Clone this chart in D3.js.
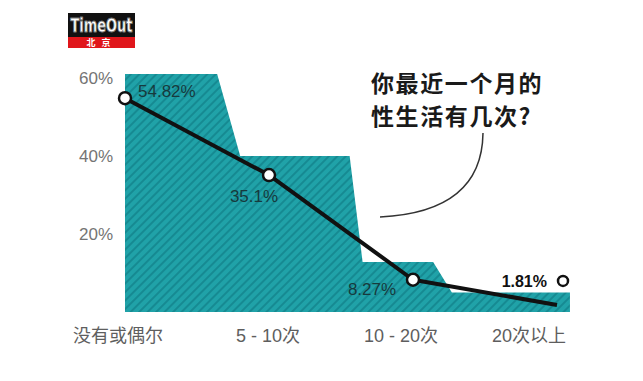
<!DOCTYPE html>
<html>
<head>
<meta charset="utf-8">
<script src="https://cdn.jsdelivr.net/npm/d3@7"></script>
<style>
  body { margin: 0; background: #fff; }
  svg { display: block; font-family: "Liberation Sans", "Noto Sans CJK SC", sans-serif; }
</style>
</head>
<body>
<div id="chart"></div>
<script>
// Data
const categories = ["没有或偶尔", "5 - 10次", "10 - 20次", "20次以上"];
const values = [54.82, 35.1, 8.27, 1.81];
const valueLabels = ["54.82%", "35.1%", "8.27%", "1.81%"];
// decorative stepped band behind the line (%)
const bandLevels = [61, 40, 12.8, 5];
const yTicks = [20, 40, 60];

const width = 643, height = 381;

const svg = d3.select("#chart")
  .append("svg")
  .attr("width", width)
  .attr("height", height);

// Scales
const x = d3.scalePoint().domain(categories).range([125, 557]);
const xi = d3.scaleLinear().domain([0, 3]).range([125, 557]); // index -> px for the band edges
const y = d3.scaleLinear().domain([0, 60]).range([312, 78]);

// Stripe pattern
const defs = svg.append("defs");
const pat = defs.append("pattern")
  .attr("id", "stripes")
  .attr("patternUnits", "userSpaceOnUse")
  .attr("width", 6)
  .attr("height", 6)
  .attr("patternTransform", "rotate(45)");
pat.append("rect").attr("width", 6).attr("height", 6).attr("fill", "#20a2a8");
pat.append("rect").attr("width", 2).attr("height", 6).attr("fill", "#168a92");

// Stepped band: each level's right edge slopes down into the next level
const edgeTop = [0.64, 1.56, 2.14, 3.09];
const edgeBottom = [0.80, 1.65, 2.27, 3.09];
const areaPts = [[xi(0), y(0)], [xi(0), y(bandLevels[0])]];
bandLevels.forEach((v, i) => {
  areaPts.push([xi(edgeTop[i]), y(v)]);
  if (i < bandLevels.length - 1) areaPts.push([xi(edgeBottom[i]), y(bandLevels[i + 1])]);
});
areaPts.push([xi(edgeTop[3]), y(0)]);

svg.append("path")
  .attr("d", d3.line()(areaPts) + "Z")
  .attr("fill", "url(#stripes)");

// Y axis labels
svg.append("g")
  .selectAll("text")
  .data(yTicks)
  .join("text")
  .attr("x", 113)
  .attr("y", (d) => y(d) + 6)
  .attr("text-anchor", "end")
  .style("font-size", "17px")
  .style("fill", "#747474")
  .text((d) => d + "%");

// X category labels
const catShift = [-7, -1, -12, -28];
svg.append("g")
  .selectAll("text")
  .data(categories)
  .join("text")
  .attr("x", (d, i) => x(d) + catShift[i])
  .attr("y", 342)
  .attr("text-anchor", "middle")
  .style("font-size", "18px")
  .style("fill", "#5e5e5e")
  .text((d) => d);

// Line
const pts = categories.map((c, i) => [x(c), y(values[i])]);
svg.append("path")
  .attr("d", d3.line()(pts))
  .attr("fill", "none")
  .attr("stroke", "#111")
  .attr("stroke-width", 4)
  .attr("stroke-linejoin", "round");

// Point markers (the last one sits beside its label instead)
svg.append("g")
  .selectAll("circle")
  .data(values.slice(0, 3))
  .join("circle")
  .attr("cx", (d, i) => x(categories[i]))
  .attr("cy", (d) => y(d))
  .attr("r", 6)
  .attr("fill", "#fff")
  .attr("stroke", "#111")
  .attr("stroke-width", 2.5);

svg.append("circle")
  .attr("cx", x(categories[3]) + 6)
  .attr("cy", y(values[3]) - 24)
  .attr("r", 5)
  .attr("fill", "#fff")
  .attr("stroke", "#111")
  .attr("stroke-width", 2.5);

// Value labels
const labelOffsets = [[13, -1], [-15, 27], [-41, 15], [-10, -18]];
svg.append("g")
  .selectAll("text")
  .data(valueLabels)
  .join("text")
  .attr("x", (d, i) => x(categories[i]) + labelOffsets[i][0])
  .attr("y", (d, i) => y(values[i]) + labelOffsets[i][1])
  .attr("text-anchor", (d, i) => i === 0 ? "start" : (i === 3 ? "end" : "middle"))
  .style("font-size", (d, i) => i === 3 ? "16px" : "17px")
  .style("font-weight", (d, i) => i === 3 ? "bold" : "normal")
  .style("fill", (d, i) => i === 3 ? "#111" : "#173a3d")
  .text((d) => d);

// Question title (two separate lines)
const titleLines = ["你最近一个月的", "性生活有几次?"];
svg.append("g")
  .selectAll("text")
  .data(titleLines)
  .join("text")
  .attr("x", 371)
  .attr("y", (d, i) => 92 + i * 33)
  .style("font-family", "'Noto Sans CJK SC', sans-serif")
  .style("font-size", "23px")
  .style("letter-spacing", "1.6px")
  .style("font-weight", "bold")
  .style("fill", "#1a1a1a")
  .text((d) => d);

// Callout curve
svg.append("path")
  .attr("d", "M483,133 Q482,212 380,217")
  .attr("fill", "none")
  .attr("stroke", "#333")
  .attr("stroke-width", 1.5);

// Time Out logo
const logo = svg.append("g").attr("transform", "translate(68,13)");
logo.append("rect").attr("width", 67).attr("height", 24).attr("fill", "#111");
logo.append("rect").attr("y", 24).attr("width", 67).attr("height", 11).attr("fill", "#e0161b");
logo.append("text")
  .attr("x", 33.5)
  .attr("y", 19)
  .attr("text-anchor", "middle")
  .attr("textLength", 62)
  .attr("lengthAdjust", "spacingAndGlyphs")
  .style("font-family", "'Liberation Sans Narrow', 'DejaVu Sans Condensed', sans-serif")
  .style("font-size", "19px")
  .style("font-weight", "bold")
  .style("fill", "#fff")
  .style("stroke", "#777")
  .style("stroke-width", 0.8)
  .text("TimeOut");
logo.append("text")
  .attr("x", 33.5)
  .attr("y", 33)
  .attr("text-anchor", "middle")
  .style("font-family", "'Noto Sans CJK SC', sans-serif")
  .style("font-size", "9px")
  .style("font-weight", "bold")
  .style("fill", "#fff")
  .style("letter-spacing", "6px")
  .text("北京");
</script>
</body>
</html>
